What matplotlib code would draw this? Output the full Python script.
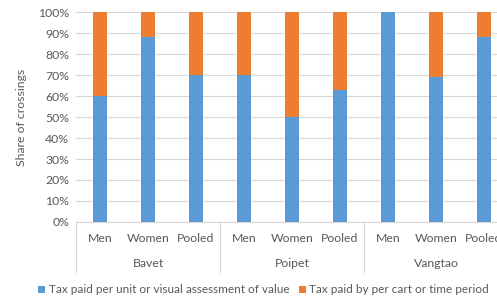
import matplotlib.pyplot as plt
import matplotlib.transforms as mtransforms
import numpy as np

plt.rcParams['font.family'] = ['Lato', 'DejaVu Sans']

# data
sites = ['Bavet', 'Poipet', 'Vangtao']
groups = ['Men', 'Women', 'Pooled']
per_unit = [60, 88, 70, 70, 50, 63, 100, 69, 88]
per_cart = [100 - v for v in per_unit]

blue = '#5B9BD5'
orange = '#ED7D31'
grey = '#595959'

fig = plt.figure(figsize=(4.97, 3.02), dpi=100)
# axes runs past the right edge, the reference is cropped there
ax = fig.add_axes([0.153, 0.265, 0.869, 0.695])

x = np.arange(len(per_unit))
ax.bar(x, per_unit, width=0.3, color=blue, zorder=3,
       label='Tax paid per unit or visual assessment of value')
ax.bar(x, per_cart, width=0.3, bottom=per_unit, color=orange, zorder=3,
       label='Tax paid by per cart or time period')

ax.set_xlim(-0.5, len(per_unit) - 0.5)
ax.set_ylim(0, 100)
ax.set_yticks(np.arange(0, 101, 10))
ax.set_yticklabels([f'{v}%' for v in range(0, 101, 10)], fontsize=8.8, color=grey)
ax.yaxis.grid(True, color='#D9D9D9', linewidth=0.8, zorder=0)
ax.tick_params(axis='y', length=0, pad=5)
ax.tick_params(axis='x', length=0)
ax.set_xticks([])
for s in ['top', 'right', 'left']:
    ax.spines[s].set_visible(False)
ax.spines['bottom'].set_color('#D9D9D9')

ax.set_ylabel('Share of crossings', fontsize=8.8, color=grey, labelpad=8)

# two-level category axis
trans = mtransforms.blended_transform_factory(ax.transData, ax.transAxes)
for i, xi in enumerate(x):
    ax.text(xi, -0.08, groups[i % 3], transform=trans, ha='center', va='center',
            fontsize=8.8, color=grey)
for j, site in enumerate(sites):
    ax.text(3 * j + 1, -0.2, site, transform=trans, ha='center', va='center',
            fontsize=8.8, color=grey)
for k in range(len(sites)):
    ax.plot([3 * k - 0.5, 3 * k - 0.5], [0, -0.24], transform=trans,
            color='#D9D9D9', linewidth=0.8, clip_on=False)

fig.legend(loc='center', bbox_to_anchor=(0.53, 0.04), ncol=2, frameon=False,
           fontsize=8.5, handlelength=0.6, handleheight=0.6, handletextpad=0.3,
           columnspacing=0.8, labelcolor=grey)

fig.savefig('out.png', dpi=100)
